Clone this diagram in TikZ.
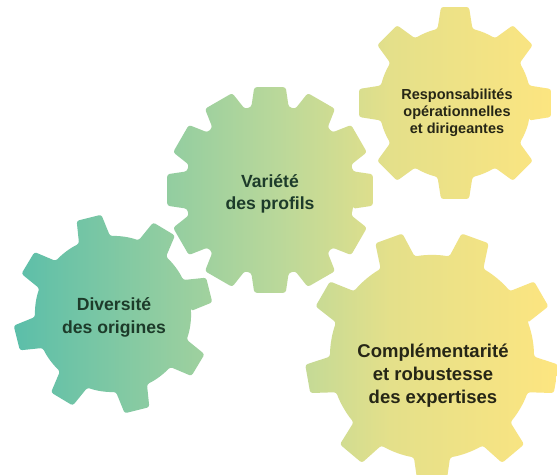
\documentclass[tikz,border=0pt]{standalone}
\usepackage{fontspec}
\setmainfont{Liberation Sans}
\usetikzlibrary{calc}
\definecolor{txtgreen}{RGB}{29,59,42}
\definecolor{txtdark}{RGB}{38,38,22}
\pgfdeclarehorizontalshading{gearshade}{100bp}{%
  rgb(0bp)=(0.337,0.741,0.667);
  rgb(25bp)=(0.337,0.741,0.667);
  rgb(50bp)=(0.729,0.847,0.604);
  rgb(60bp)=(0.894,0.878,0.541);
  rgb(75bp)=(0.992,0.898,0.502);
  rgb(100bp)=(0.992,0.898,0.502)}
% centre x, centre y, teeth, outer R, root r, offset, tip half-angle, base half-angle
\newcommand\gearpath[8]{%
  ($(#1,#2)+({#6-#8}:#5)$)
  \foreach \k in {1,...,#3}{
    -- ($(#1,#2)+({#6+(\k-1)*360/#3-#7}:#4)$)
    -- ($(#1,#2)+({#6+(\k-1)*360/#3+#7}:#4)$)
    -- ($(#1,#2)+({#6+(\k-1)*360/#3+#8}:#5)$)
    arc[start angle={#6+(\k-1)*360/#3+#8}, end angle={#6+\k*360/#3-#8}, radius=#5]
  } -- cycle
}
\tikzset{
  gtext/.style={align=center, font=\bfseries},
}
\begin{document}
\begin{tikzpicture}[x=1pt,y=1pt]
\useasboundingbox (0,0) rectangle (557,474);
\fill[white] (0,0) rectangle (557,474);
\begin{scope}
  \clip[rounded corners=2.5pt]
    \gearpath{113}{160}{8}{100}{78}{14}{7.3}{11.8}
    \gearpath{270}{284}{12}{104}{85}{0}{8.7}{12.7}
    \gearpath{455}{371}{8}{97}{76}{0}{8.3}{13.3}
    \gearpath{432}{117}{9}{127}{102}{30}{6.5}{10.2};
  \shade[shading=gearshade] (0,0) rectangle (557,474);
\end{scope}
\node[gtext, text=txtgreen, font=\bfseries\fontsize{17.6}{23}\selectfont] (t1) at (114,156.5) {Diversité\\des origines};
\node[gtext, text=txtgreen, font=\bfseries\fontsize{17.6}{22}\selectfont] (t2) at (270,280) {Variété\\des profils};
\node[gtext, text=txtdark, font=\bfseries\fontsize{14.5}{17}\selectfont] (t3) at (457,361) {Responsabilités\\opérationnelles\\et dirigeantes};
\node[gtext, text=txtdark, font=\bfseries\fontsize{18.5}{23}\selectfont] (t4) at (433,98) {Complémentarité\\et robustesse\\des expertises};
\end{tikzpicture}
\end{document}
